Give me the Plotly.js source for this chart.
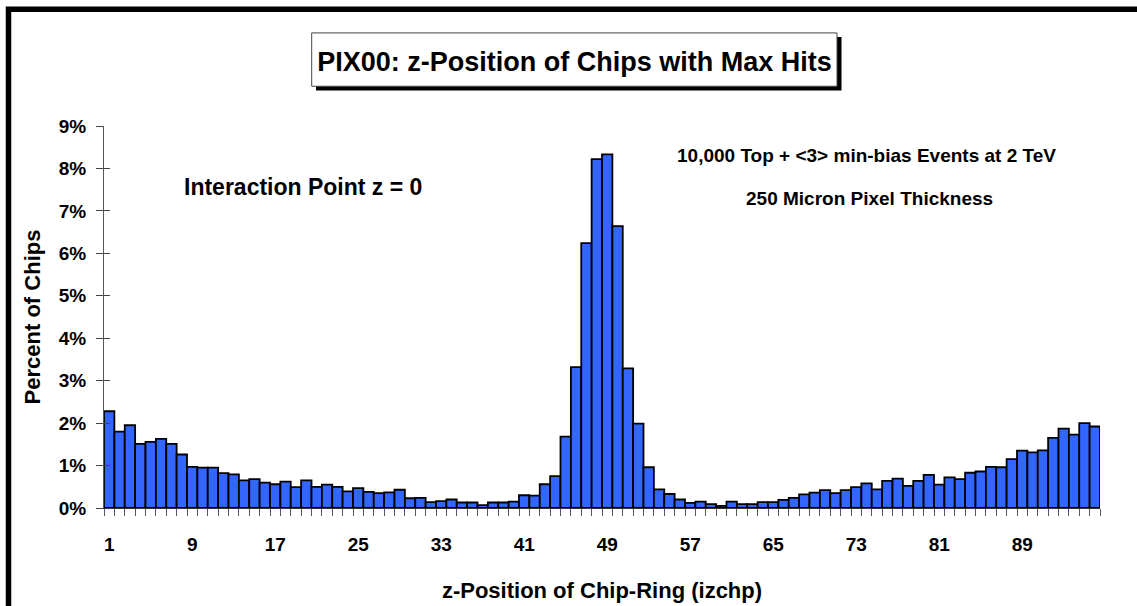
<!DOCTYPE html>
<html>
<head>
<meta charset="utf-8">
<script src="https://cdn.plot.ly/plotly-3.0.1.min.js"></script>
<style>
  html, body { margin: 0; padding: 0; background: #ffffff; }
  #chart { width: 1137px; height: 606px; }
</style>
</head>
<body>
<div id="chart"></div>
<script>
// Chip-ring index along z (izchp)
const chipRing = [
  1, 2, 3, 4, 5, 6, 7, 8, 9, 10, 11, 12, 13, 14, 15, 16,
  17, 18, 19, 20, 21, 22, 23, 24, 25, 26, 27, 28, 29, 30, 31, 32,
  33, 34, 35, 36, 37, 38, 39, 40, 41, 42, 43, 44, 45, 46, 47, 48,
  49, 50, 51, 52, 53, 54, 55, 56, 57, 58, 59, 60, 61, 62, 63, 64,
  65, 66, 67, 68, 69, 70, 71, 72, 73, 74, 75, 76, 77, 78, 79, 80,
  81, 82, 83, 84, 85, 86, 87, 88, 89, 90, 91, 92, 93, 94, 95, 96
];

// Percent of chips holding the maximum number of hits
const percentOfChips = [
  2.28, 1.80, 1.95, 1.51, 1.56, 1.63, 1.51, 1.26, 0.97, 0.95, 0.95, 0.82, 0.79, 0.65, 0.68, 0.60,
  0.56, 0.62, 0.49, 0.65, 0.50, 0.55, 0.50, 0.39, 0.47, 0.38, 0.35, 0.37, 0.43, 0.23, 0.24, 0.14,
  0.16, 0.20, 0.13, 0.13, 0.07, 0.13, 0.13, 0.15, 0.30, 0.29, 0.56, 0.75, 1.68, 3.32, 6.24, 8.22,
  8.33, 6.64, 3.29, 1.99, 0.96, 0.44, 0.33, 0.20, 0.12, 0.15, 0.09, 0.05, 0.15, 0.09, 0.09, 0.14,
  0.14, 0.19, 0.24, 0.32, 0.36, 0.42, 0.35, 0.42, 0.49, 0.58, 0.44, 0.64, 0.69, 0.52, 0.64, 0.78,
  0.55, 0.72, 0.68, 0.83, 0.86, 0.97, 0.96, 1.15, 1.35, 1.31, 1.36, 1.65, 1.87, 1.73, 2.00, 1.92
];

// Axis ticks
const xTickValues = [1, 9, 17, 25, 33, 41, 49, 57, 65, 73, 81, 89];
const xTickLabels = ['1', '9', '17', '25', '33', '41', '49', '57', '65', '73', '81', '89'];
const yTickValues = [0, 1, 2, 3, 4, 5, 6, 7, 8, 9];
const yTickLabels = ['0%', '1%', '2%', '3%', '4%', '5%', '6%', '7%', '8%', '9%'];

// Text
const chartTitle = 'PIX00: z-Position of Chips with Max Hits';
const xTitle = 'z-Position of Chip-Ring (izchp)';
const yTitle = 'Percent of Chips';
const noteIP = 'Interaction Point z = 0';
const noteEvents = '10,000 Top + &lt;3&gt; min-bias Events at 2 TeV';
const noteThickness = '250 Micron Pixel Thickness';

// Page geometry (pixels)
const W = 1137, H = 606;
const plotLeft = 104, plotRight = 1100, plotTop = 125.5, plotBottom = 508;
const fx = x => (x - plotLeft) / (plotRight - plotLeft);
const fy = y => (plotBottom - y) / (plotBottom - plotTop);

const FONT = '"Liberation Sans", Arial, Helvetica, sans-serif';
const bold = (size) => ({ family: FONT, size: size, color: '#000000', weight: 700 });

const bars = {
  type: 'bar',
  x: chipRing,
  y: percentOfChips,
  marker: { color: '#3366ff', line: { color: '#000000', width: 1.8 } },
  hoverinfo: 'x+y',
  showlegend: false
};

// carries the inward half of the crossing y ticks
const innerTicks = {
  type: 'scatter', x: [], y: [], yaxis: 'y2',
  hoverinfo: 'skip', showlegend: false
};

const layout = {
  width: W, height: H,
  margin: { l: plotLeft, r: W - plotRight, t: plotTop, b: H - plotBottom, pad: 0 },
  paper_bgcolor: '#ffffff',
  plot_bgcolor: '#ffffff',
  font: bold(19),
  bargap: 0,
  title: {
    text: chartTitle,
    font: bold(27),
    xref: 'container', yref: 'container',
    x: 574.4 / W, xanchor: 'center',
    y: 1 - 61.7 / H, yanchor: 'middle'
  },
  xaxis: {
    range: [0.5, 96.5],
    showgrid: false, zeroline: false,
    showline: true, linecolor: '#333333', linewidth: 1,
    tickmode: 'array', tickvals: xTickValues, ticktext: xTickLabels,
    ticks: '', ticklabelstandoff: 19,
    tickfont: bold(19),
    minor: { ticks: 'outside', ticklen: 7, tickwidth: 1, tickcolor: '#555555', tick0: 0.5, dtick: 1, showgrid: false },
    title: { text: xTitle, font: bold(22), standoff: 28 },
    fixedrange: true
  },
  yaxis: {
    range: [0, 9],
    showgrid: false, zeroline: false,
    showline: true, linecolor: '#555555', linewidth: 1,
    tickmode: 'array', tickvals: yTickValues, ticktext: yTickLabels,
    ticks: 'outside', ticklen: 7, tickwidth: 1, tickcolor: '#444444',
    ticklabelstandoff: 6,
    tickfont: bold(19),
    title: { text: yTitle, font: bold(22), standoff: 12 },
    fixedrange: true
  },
  yaxis2: {
    overlaying: 'y', anchor: 'x', side: 'left',
    range: [0, 9],
    showgrid: false, zeroline: false, showline: false,
    tickmode: 'array', tickvals: yTickValues,
    ticks: 'inside', ticklen: 6, tickwidth: 1, tickcolor: '#444444',
    showticklabels: false,
    fixedrange: true
  },
  shapes: [
    // outer frame
    { type: 'rect', xref: 'paper', yref: 'paper', layer: 'above',
      x0: fx(8.5), x1: fx(W + 20), y0: fy(H + 20), y1: fy(8.5),
      line: { color: '#000000', width: 5.5 }, fillcolor: 'rgba(0,0,0,0)' },
    // title box drop shadow
    { type: 'rect', xref: 'paper', yref: 'paper', layer: 'below',
      x0: fx(316), x1: fx(841.5), y0: fy(90), y1: fy(36.5),
      line: { width: 0 }, fillcolor: '#000000' },
    // title box
    { type: 'rect', xref: 'paper', yref: 'paper', layer: 'below',
      x0: fx(311.7), x1: fx(837), y0: fy(85.7), y1: fy(32.3),
      line: { color: '#444444', width: 1 }, fillcolor: '#ffffff' }
  ],
  annotations: [
    { text: noteIP, xref: 'paper', yref: 'paper', x: fx(302.5), y: fy(187),
      xanchor: 'center', yanchor: 'middle', showarrow: false, font: bold(23) },
    { text: noteEvents, xref: 'paper', yref: 'paper', x: fx(866), y: fy(155),
      xanchor: 'center', yanchor: 'middle', showarrow: false, font: bold(19) },
    { text: noteThickness, xref: 'paper', yref: 'paper', x: fx(869), y: fy(198),
      xanchor: 'center', yanchor: 'middle', showarrow: false, font: bold(19) }
  ]
};

Plotly.newPlot('chart', [bars, innerTicks], layout, { displayModeBar: false, staticPlot: true });
</script>
</body>
</html>
